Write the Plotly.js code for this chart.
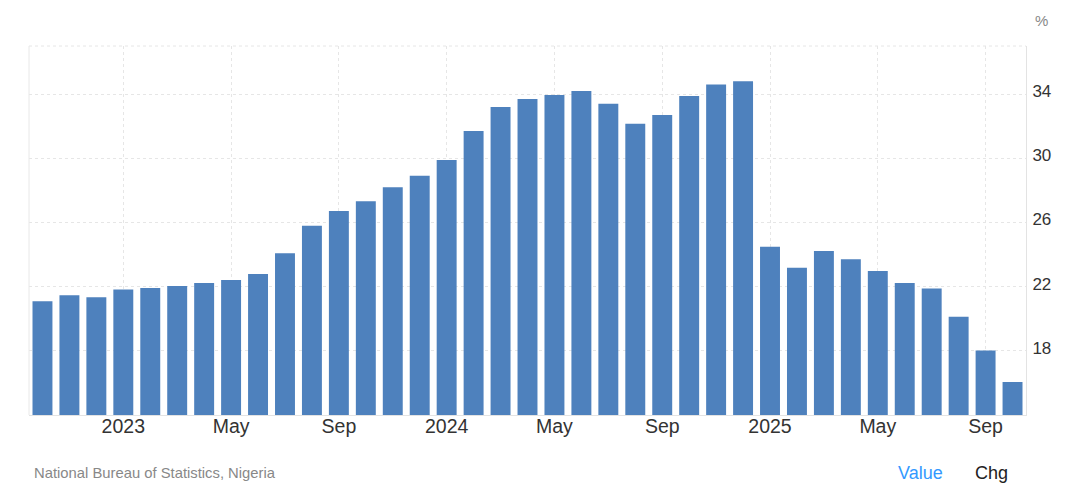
<!DOCTYPE html>
<html>
<head>
<meta charset="utf-8">
<script src="https://cdn.plot.ly/plotly-3.0.1.min.js"></script>
<style>
  html, body { margin: 0; padding: 0; background: #ffffff; }
  #chart { width: 1066px; height: 504px; }
</style>
</head>
<body>
<div id="chart"></div>
<script>
const months = [
  "Oct 2022", "Nov 2022", "Dec 2022",
  "Jan 2023", "Feb 2023", "Mar 2023", "Apr 2023", "May 2023", "Jun 2023",
  "Jul 2023", "Aug 2023", "Sep 2023", "Oct 2023", "Nov 2023", "Dec 2023",
  "Jan 2024", "Feb 2024", "Mar 2024", "Apr 2024", "May 2024", "Jun 2024",
  "Jul 2024", "Aug 2024", "Sep 2024", "Oct 2024", "Nov 2024", "Dec 2024",
  "Jan 2025", "Feb 2025", "Mar 2025", "Apr 2025", "May 2025", "Jun 2025",
  "Jul 2025", "Aug 2025", "Sep 2025", "Oct 2025"
];
const inflation = [
  21.09, 21.47, 21.34,
  21.82, 21.91, 22.04, 22.22, 22.41, 22.79,
  24.08, 25.80, 26.72, 27.33, 28.20, 28.92,
  29.90, 31.70, 33.20, 33.69, 33.95, 34.19,
  33.40, 32.15, 32.70, 33.88, 34.60, 34.80,
  24.48, 23.18, 24.23, 23.71, 22.97, 22.22,
  21.88, 20.12, 18.02, 16.05
];
const xTickVals = ["Jan 2023", "May 2023", "Sep 2023", "Jan 2024", "May 2024", "Sep 2024", "Jan 2025", "May 2025", "Sep 2025"];
const xTickText = ["2023", "May", "Sep", "2024", "May", "Sep", "2025", "May", "Sep"];
const yTickVals = [18, 22, 26, 30, 34];
const yRange = [14, 37];
const sourceText = "National Bureau of Statistics, Nigeria";
const unitText = "%";

const FONT = "Arial, 'Liberation Sans', sans-serif";
const GRID = "#e6e6e6";

const trace = {
  type: "bar",
  x: months,
  y: inflation,
  marker: { color: "#4e81bd", line: { width: 0 } },
  hoverinfo: "x+y"
};

const layout = {
  width: 1066,
  height: 504,
  margin: { l: 29, r: 40, t: 46, b: 89, pad: 0 },
  paper_bgcolor: "#ffffff",
  plot_bgcolor: "#ffffff",
  showlegend: false,
  bargap: 0.26,
  font: { family: FONT, color: "#333333" },
  xaxis: {
    type: "category",
    tickmode: "array",
    tickvals: xTickVals,
    ticktext: xTickText,
    tickfont: { size: 19.5, color: "#333333", family: FONT },
    ticks: "",
    ticklabelstandoff: -6,
    showgrid: true,
    gridcolor: GRID,
    griddash: "dot",
    gridwidth: 1,
    showline: true,
    linecolor: "#e3e3e3",
    linewidth: 1,
    zeroline: false,
    fixedrange: true
  },
  yaxis: {
    side: "right",
    range: yRange,
    tickmode: "array",
    tickvals: yTickVals,
    tickfont: { size: 17, color: "#333333", family: FONT },
    ticks: "",
    ticklabelstandoff: 2,
    ticklabelshift: -3,
    showgrid: true,
    gridcolor: GRID,
    griddash: "dot",
    gridwidth: 1,
    showline: true,
    linecolor: "#e3e3e3",
    linewidth: 1,
    zeroline: false,
    fixedrange: true
  },
  shapes: [
    { type: "line", xref: "paper", yref: "paper", x0: 0, x1: 1, y0: 1, y1: 1,
      line: { color: GRID, width: 1, dash: "dot" } },
    { type: "line", xref: "paper", yref: "paper", x0: 0, x1: 0, y0: 0, y1: 1,
      line: { color: "#e8e8e8", width: 1 } }
  ],
  annotations: [
    { text: unitText, xref: "paper", yref: "paper", x: 1.016, y: 1.07,
      xanchor: "center", yanchor: "middle", showarrow: false,
      font: { size: 15, color: "#888888", family: FONT } },
    { text: sourceText, xref: "paper", yref: "paper", x: 0.0035, y: -0.157,
      xanchor: "left", yanchor: "middle", showarrow: false,
      font: { size: 14.8, color: "#888888", family: FONT } },
    { text: "Value", xref: "paper", yref: "paper", x: 0.8695, y: -0.157,
      xanchor: "left", yanchor: "middle", showarrow: false,
      font: { size: 18, color: "#3399ff", family: FONT } },
    { text: "Chg", xref: "paper", yref: "paper", x: 0.9468, y: -0.157,
      xanchor: "left", yanchor: "middle", showarrow: false,
      font: { size: 18, color: "#222222", family: FONT } }
  ]
};

Plotly.newPlot("chart", [trace], layout, { displayModeBar: false, staticPlot: false });
</script>
</body>
</html>
